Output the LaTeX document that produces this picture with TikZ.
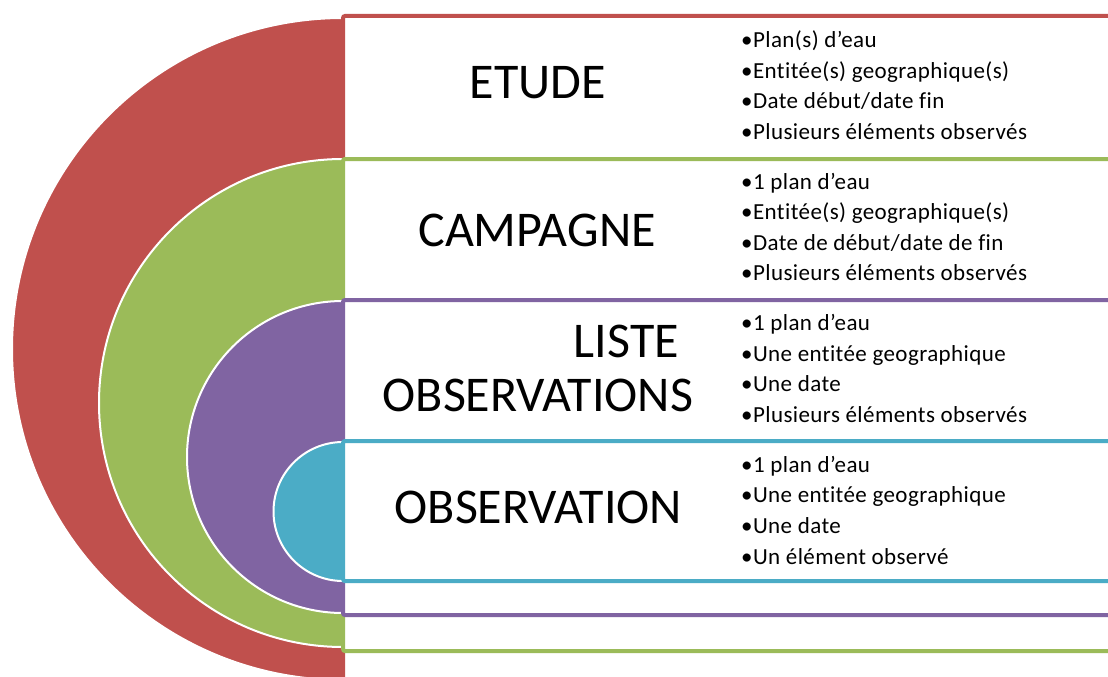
\documentclass[tikz,border=0pt]{standalone}
\usepackage{fontspec}
\setmainfont{Carlito}[Ligatures={NoCommon}]
\newfontfamily\itemfont{Carlito}[Ligatures={NoCommon},LetterSpace=1.8]
\definecolor{cred}{HTML}{C0504D}
\definecolor{cgreen}{HTML}{9BBB59}
\definecolor{cpurple}{HTML}{8064A2}
\definecolor{cblue}{HTML}{4BACC6}
\tikzset{
  half/.style={fill=#1, draw=white, line width=2pt},
  panel/.style={draw=#1, fill=white, line width=4pt, rounded corners=2pt},
  title/.style={font=\fontsize{50}{52}\selectfont, inner sep=0pt, anchor=base},
  item/.style={font=\itemfont\fontsize{23}{26}\selectfont, inner sep=0pt, anchor=base west},
}
\begin{document}
\begin{tikzpicture}[x=1pt,y=-1pt]
\useasboundingbox (0,0) rectangle (1108,677);
\clip (0,0) rectangle (1108,677);
% red level
\path[half=cred] (343,18) arc[start angle=270,end angle=90,radius=331] -- cycle;
\path[panel=cred] (343,16) rectangle (1130,720);
% green level
\path[half=cgreen] (343,159) arc[start angle=270,end angle=90,radius=244] -- cycle;
\path[panel=cgreen] (343,159) rectangle (1130,651);
% purple level
\path[half=cpurple] (343,301) arc[start angle=270,end angle=90,radius=156] -- cycle;
\path[panel=cpurple] (343,300) rectangle (1130,615);
% blue level
\path[half=cblue] (343,442) arc[start angle=270,end angle=90,radius=69.5] -- cycle;
\path[panel=cblue] (343,441) rectangle (1130,581);
% titles
\node[title] (etude) at (538,98) {ETUDE};
\node[title] (campagne) at (537,246) {CAMPAGNE};
\node[title] (liste) at (626.5,357) {LISTE};
\node[title] (observations) at (538,411) {OBSERVATIONS};
\node[title] (observation) at (538.5,523) {OBSERVATION};
% items
\node[item] (e1) at (741,48) {•Plan(s) d’eau};
\node[item] (e2) at (741,78) {•Entitée(s) geographique(s)};
\node[item] (e3) at (741,108.5) {•Date début/date fin};
\node[item] (e4) at (741,139) {•Plusieurs éléments observés};
\node[item] (c1) at (741,189) {•1 plan d’eau};
\node[item] (c2) at (741,219.5) {•Entitée(s) geographique(s)};
\node[item] (c3) at (741,250) {•Date de début/date de fin};
\node[item] (c4) at (741,280.5) {•Plusieurs éléments observés};
\node[item] (l1) at (741,330) {•1 plan d’eau};
\node[item] (l2) at (741,361) {•Une entitée geographique};
\node[item] (l3) at (741,391.5) {•Une date};
\node[item] (l4) at (741,422) {•Plusieurs éléments observés};
\node[item] (o1) at (741,472) {•1 plan d’eau};
\node[item] (o2) at (741,502.5) {•Une entitée geographique};
\node[item] (o3) at (741,533) {•Une date};
\node[item] (o4) at (741,564) {•Un élément observé};
\end{tikzpicture}
\end{document}
